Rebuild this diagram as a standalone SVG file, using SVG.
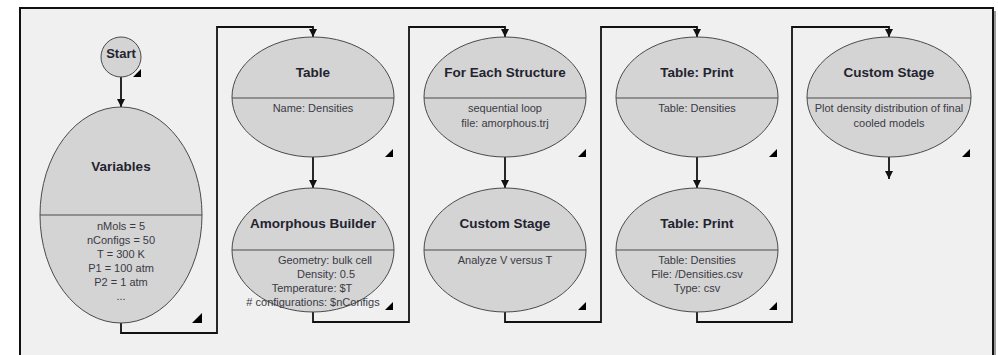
<svg xmlns="http://www.w3.org/2000/svg" width="998" height="355" viewBox="0 0 998 355">
<style>
.node ellipse,.node circle{fill:#d4d4d4;stroke:#4a4a4a;stroke-width:1}
.div{stroke:#4a4a4a;stroke-width:1.2}
.title{font-family:"Liberation Sans",Arial,sans-serif;font-weight:bold;font-size:13.5px;fill:#23232f;text-anchor:middle}
.body{font-family:"Liberation Sans",Arial,sans-serif;font-size:11px;fill:#3a3a44;text-anchor:middle}
.tri{fill:#000}
.conn{fill:none;stroke:#111;stroke-width:1.8}
</style>
<defs>
<marker id="arr" markerUnits="userSpaceOnUse" markerWidth="8" markerHeight="9" refX="8" refY="4" orient="auto" viewBox="0 0 8 8">
<path d="M0,0 L8,4 L0,8 z" fill="#111"/>
</marker>
</defs>
<rect x="0" y="0" width="998" height="355" fill="#ffffff"/>
<rect x="23" y="11" width="973" height="360" fill="#9a9a9a"/>
<rect x="20" y="8" width="973" height="360" fill="#f0f0f0" stroke="#111" stroke-width="2"/>

<g id="connectors">
<path class="conn" d="M121,77 V107" marker-end="url(#arr)"/>
<path class="conn" d="M121,323 V333 H217 V27 H313 V37" marker-end="url(#arr)"/>
<path class="conn" d="M313,157 V188" marker-end="url(#arr)"/>
<path class="conn" d="M313,312 V322 H409 V27 H505 V37" marker-end="url(#arr)"/>
<path class="conn" d="M505,157 V188" marker-end="url(#arr)"/>
<path class="conn" d="M505,312 V322 H601 V27 H697 V37" marker-end="url(#arr)"/>
<path class="conn" d="M697,157 V188" marker-end="url(#arr)"/>
<path class="conn" d="M697,312 V322 H792 V27 H889 V37" marker-end="url(#arr)"/>
<path class="conn" d="M889,157 V179" marker-end="url(#arr)"/>
</g>

<g id="start" class="node">
<circle cx="121" cy="57" r="20"/>
<text class="title" x="121" y="58" style="font-size:13px">Start</text>
<path class="tri" d="M141,69 V77 H133 z"/>
</g>

<g id="variables" class="node">
<ellipse cx="121" cy="215" rx="81" ry="108"/>
<line class="div" x1="40" y1="215" x2="202" y2="215"/>
<text class="title" x="121" y="171">Variables</text>
<text class="body" x="121" y="230">nMols = 5</text>
<text class="body" x="121" y="244">nConfigs = 50</text>
<text class="body" x="121" y="258">T = 300 K</text>
<text class="body" x="121" y="272">P1 = 100 atm</text>
<text class="body" x="121" y="286">P2 = 1 atm</text>
<text class="body" x="121" y="300">...</text>
<path class="tri" d="M202,313 V323 H192 z"/>
</g>

<g id="table" class="node">
<ellipse cx="313" cy="97" rx="81" ry="60"/>
<line class="div" x1="232" y1="98" x2="394" y2="98"/>
<text class="title" x="313" y="77">Table</text>
<text class="body" x="313" y="112">Name: Densities</text>
<path class="tri" d="M393,149 V157 H385 z"/>
</g>

<g id="amorphous-builder" class="node">
<ellipse cx="313" cy="250" rx="81" ry="62"/>
<line class="div" x1="232" y1="250" x2="394" y2="250"/>
<text class="title" x="313" y="228">Amorphous Builder</text>
<text class="body" x="325" y="264">Geometry: bulk cell</text>
<text class="body" x="326" y="278">Density: 0.5</text>
<text class="body" x="312" y="292">Temperature: $T</text>
<text class="body" x="313" y="306"># configurations: $nConfigs</text>
<path class="tri" d="M393,302 V310 H385 z"/>
</g>

<g id="for-each-structure" class="node">
<ellipse cx="505" cy="97" rx="81" ry="60"/>
<line class="div" x1="424" y1="98" x2="586" y2="98"/>
<text class="title" x="505" y="77">For Each Structure</text>
<text class="body" x="505" y="112">sequential loop</text>
<text class="body" x="505" y="127">file: amorphous.trj</text>
<path class="tri" d="M586,149 V157 H578 z"/>
</g>

<g id="custom-stage-1" class="node">
<ellipse cx="505" cy="250" rx="81" ry="62"/>
<line class="div" x1="424" y1="250" x2="586" y2="250"/>
<text class="title" x="505" y="228">Custom Stage</text>
<text class="body" x="505" y="264">Analyze V versus T</text>
<path class="tri" d="M586,302 V310 H578 z"/>
</g>

<g id="table-print-1" class="node">
<ellipse cx="697" cy="97" rx="81" ry="60"/>
<line class="div" x1="616" y1="98" x2="778" y2="98"/>
<text class="title" x="697" y="77">Table: Print</text>
<text class="body" x="697" y="112">Table: Densities</text>
<path class="tri" d="M777,149 V157 H769 z"/>
</g>

<g id="table-print-2" class="node">
<ellipse cx="697" cy="250" rx="81" ry="62"/>
<line class="div" x1="616" y1="250" x2="778" y2="250"/>
<text class="title" x="697" y="228">Table: Print</text>
<text class="body" x="697" y="264">Table: Densities</text>
<text class="body" x="697" y="278">File: /Densities.csv</text>
<text class="body" x="697" y="292">Type: csv</text>
<path class="tri" d="M777,302 V310 H769 z"/>
</g>

<g id="custom-stage-2" class="node">
<ellipse cx="889" cy="97" rx="82" ry="60"/>
<line class="div" x1="807" y1="98" x2="971" y2="98"/>
<text class="title" x="889" y="77">Custom Stage</text>
<text class="body" x="889" y="112">Plot density distribution of final</text>
<text class="body" x="889" y="127">cooled models</text>
<path class="tri" d="M970,149 V157 H962 z"/>
</g>
</svg>
